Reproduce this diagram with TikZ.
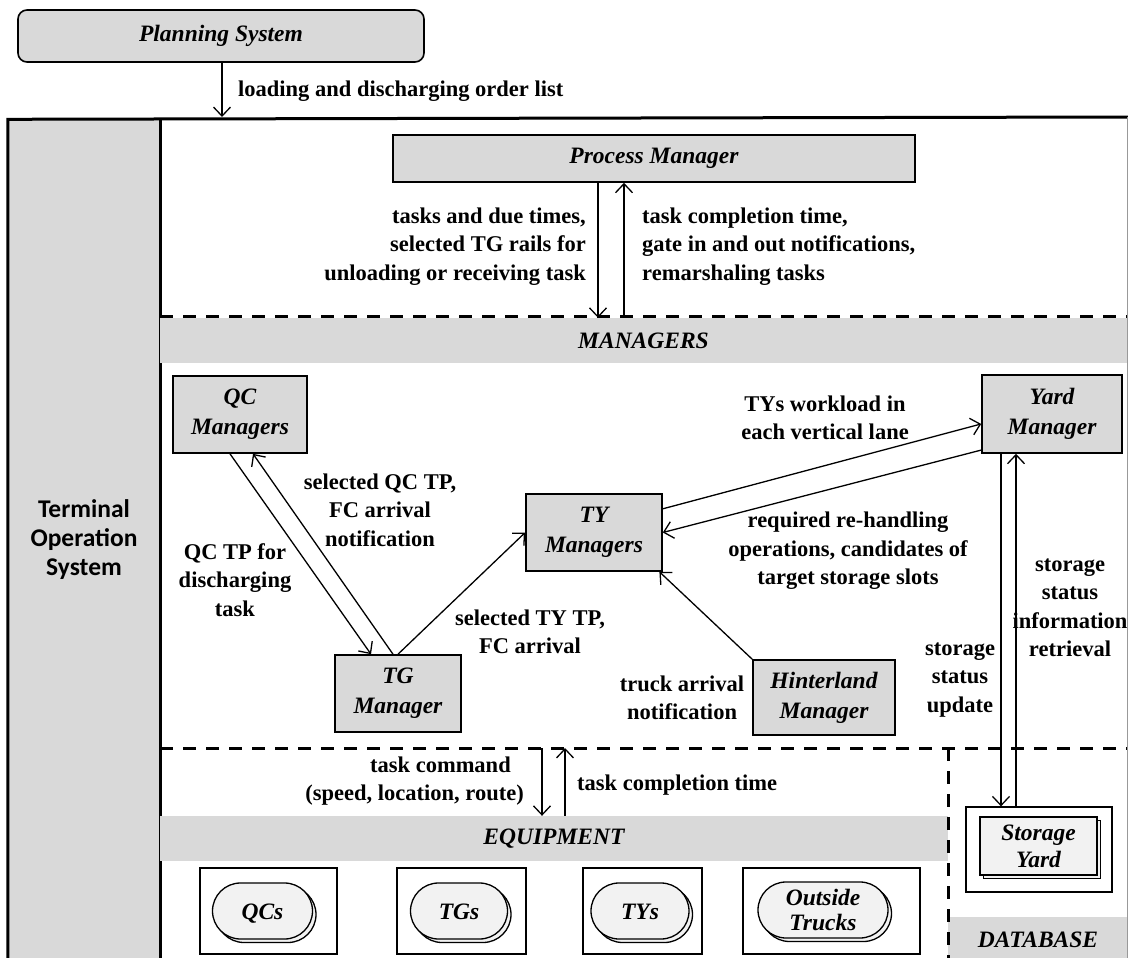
\documentclass[tikz,border=0pt]{standalone}
\usepackage{fontspec}
\setmainfont{Liberation Serif}
\newfontfamily\tosfont{Carlito}
\usetikzlibrary{arrows.meta,shadows}

\newlength{\du}
\setlength{\du}{1\unitlength}

\definecolor{panelgray}{rgb}{0.850980, 0.850980, 0.850980}
\definecolor{unitgray}{rgb}{0.949020, 0.949020, 0.949020}
\definecolor{edgegray}{rgb}{0.600000, 0.600000, 0.600000}

\newcommand{\namefont}{\fontsize{23.5}{30}\selectfont\bfseries\itshape}
\newcommand{\lblfont}{\fontsize{22.5}{28.5}\selectfont\bfseries}

\tikzset{
  mgrbox/.style={draw, line width=1.6\du, fill=panelgray, inner sep=0pt, align=center, font=\namefont},
  band/.style={fill=panelgray, inner sep=0pt, font=\namefont},
  lbl/.style={inner sep=0pt, align=center, font=\lblfont},
  flow/.style={-{Straight Barb[length=9pt,width=17pt]}, line width=1.3\du},
  divider/.style={line width=3\du, dash pattern=on 13\du off 10\du},
  frame/.style={line width=3\du},
  eqbox/.style={draw, fill=white, line width=1.3\du, inner sep=0pt},
  unit/.style={draw, line width=1.3\du, fill=unitgray, rounded corners=28\du, inner sep=0pt, align=center, font=\namefont,
    copy shadow={shadow xshift=3.5\du, shadow yshift=-3.5\du}},
  oneline/.style={text height=16\du, text depth=0\du},
}

\begin{document}
\begin{tikzpicture}
\pgftransformxscale{1.000000}
\pgftransformyscale{-1.000000}
\useasboundingbox (0\du,0\du) rectangle (1128\du,958\du);
% planning system above the terminal
\node[mgrbox, rounded corners=9\du, minimum width=406\du, minimum height=52\du] (plan) at (221\du,36\du) {Planning System};
\node[fill=panelgray, inner sep=0pt, minimum width=152\du, minimum height=841\du, align=center,
  font=\tosfont\fontsize{25.5}{29}\selectfont\bfseries] (tos) at (84\du,540\du) {Terminal\\Operation\\System};
\draw[frame] (tos.south west) -- (tos.north west) -- (1128\du,117\du);
\draw[frame] (tos.north east) -- (tos.south east);
\coordinate (tostop) at (222\du,117\du);
\draw[flow] (plan.south -| tostop) -- (tostop);
\node[lbl, anchor=west] (orderlbl) at (238\du,91\du) {loading and discharging order list};
% process manager
\node[mgrbox, minimum width=522\du, minimum height=47\du] (pm) at (654\du,158.5\du) {Process Manager};
\draw[divider] (160\du,316\du) -- (1128\du,316\du);
\node[band, minimum width=967\du, minimum height=45\du] (mgr) at (643.5\du,340.5\du) {MANAGERS};
\draw[flow] ([xshift=-56\du]pm.south) -- ([xshift=-45.5\du]mgr.north);
\draw[flow] ([xshift=-19.5\du]mgr.north) -- ([xshift=-30\du]pm.south);
\node[lbl, anchor=east, align=right] (downlbl) at (586\du,246.5\du) {tasks and due times,\\selected TG rails for\\unloading or receiving task};
\node[lbl, anchor=west, align=left] (uplbl) at (642\du,246.5\du) {task completion time,\\gate in and out notifications,\\remarshaling tasks};
% managers
\node[mgrbox, minimum width=134\du, minimum height=77\du] (qcm) at (240\du,414.5\du) {QC\\Managers};
\node[mgrbox, minimum width=136\du, minimum height=77\du] (tym) at (594\du,532.5\du) {TY\\Managers};
\node[mgrbox, minimum width=140\du, minimum height=78\du] (yard) at (1052\du,414\du) {Yard\\Manager};
\node[mgrbox, minimum width=126\du, minimum height=77\du] (tgm) at (398\du,693.5\du) {TG\\Manager};
\node[mgrbox, minimum width=142\du, minimum height=75\du] (hint) at (824\du,697.5\du) {Hinterland\\Manager};
\draw[flow] ([xshift=-10\du]qcm.south) -- ([xshift=-27\du]tgm.north);
\draw[flow] ([xshift=-5\du]tgm.north) -- ([xshift=13\du]qcm.south);
\draw[flow] (tgm.north) -- (tym.west);
\draw[flow] (tym.19) -- (yard.188);
\draw[flow] (yard.207) -- (tym.east);
\draw[flow] (hint.north west) -- (tym.-31);
\node[lbl] (qctplbl) at (380\du,510\du) {selected QC TP,\\FC arrival\\notification};
\node[lbl] (dischlbl) at (235\du,580\du) {QC TP for\\discharging\\task};
\node[lbl] (tytplbl) at (530\du,632\du) {selected TY TP,\\FC arrival};
\node[lbl] (loadlbl) at (825\du,418\du) {TYs workload in\\each vertical lane};
\node[lbl] (slotlbl) at (848\du,551\du) {required re-handling\\operations, candidates of\\target storage slots};
\node[lbl] (trucklbl) at (682\du,698\du) {truck arrival\\notification};
% equipment and database
\node[band, minimum width=788\du, minimum height=45\du] (eqp) at (554\du,838.5\du) {EQUIPMENT};
\node[band, minimum width=180\du, minimum height=45\du] (db) at (1038\du,939.5\du) {DATABASE};
\draw[divider] (160\du,748\du) -- (1128\du,748\du);
\draw[divider] (948\du,748\du) -- (948\du,958\du);
\coordinate (cmdtop) at (542\du,748\du);
\coordinate (donetop) at (565\du,748\du);
\draw[flow] (cmdtop) -- (eqp.north -| cmdtop);
\draw[flow] (eqp.north -| donetop) -- (donetop);
\node[lbl, anchor=east, align=right] (cmdlbl) at (524\du,781\du) {task command\hspace*{13\du}\\(speed, location, route)};
\node[lbl, anchor=west] (donelbl) at (577\du,785\du) {task completion time};
\node[eqbox, minimum width=137\du, minimum height=86\du] (qcbox) at (268.5\du,911\du) {};
\node[eqbox, minimum width=129\du, minimum height=86\du] (tgbox) at (461.5\du,911\du) {};
\node[eqbox, minimum width=119\du, minimum height=86\du] (tybox) at (642.5\du,911\du) {};
\node[eqbox, minimum width=177\du, minimum height=86\du] (otbox) at (831.5\du,911\du) {};
\node[unit, oneline, minimum width=100\du, minimum height=56\du] (qcs) at (262.5\du,911\du) {QCs};
\node[unit, oneline, minimum width=97\du, minimum height=56\du] (tgs) at (459\du,911\du) {TGs};
\node[unit, oneline, minimum width=98\du, minimum height=56\du] (tys) at (640\du,911\du) {TYs};
\node[unit, minimum width=130\du, minimum height=56\du, font=\namefont\fontsize{23.5}{25}\selectfont] (trucks) at (823\du,910\du) {Outside\\Trucks};
\node[eqbox, minimum width=146\du, minimum height=85\du] (sy) at (1039\du,849.5\du) {};
\node[unit, rounded corners=0pt, minimum width=117\du, minimum height=58\du, font=\namefont\fontsize{23.5}{27}\selectfont] (syc) at (1038.5\du,846\du) {Storage\\Yard};
\draw[flow] ([xshift=-51\du]yard.south) -- ([xshift=-38\du]sy.north);
\draw[flow] ([xshift=-23\du]sy.north) -- ([xshift=-36\du]yard.south);
\node[lbl] (updlbl) at (960\du,680\du) {storage\\status\\update};
\node[lbl] (retrlbl) at (1070\du,608\du) {storage\\status\\information\\retrieval};
\draw[line width=1\du, edgegray] (1127\du,117\du) -- (1127\du,958\du);
\end{tikzpicture}
\end{document}
